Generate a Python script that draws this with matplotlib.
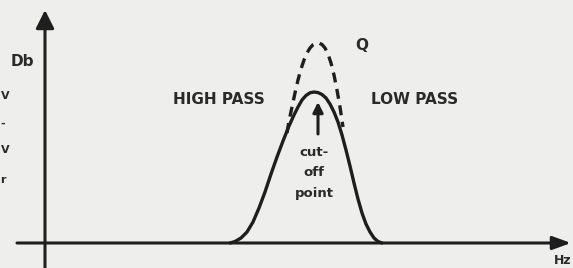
"""Filter response sketch: high pass / low pass around a cut-off point, with Q peak."""
import matplotlib
matplotlib.use("Agg")
import matplotlib.pyplot as plt

W, H = 573, 268
BG = "#eeeeec"
INK = "#1e1e1e"

# solid response curve (x = frequency position, y = level, picture units)
solid_x = [230, 235, 241, 247, 253, 259, 265, 271, 277, 283, 289, 294, 298, 302,
           306, 310, 314, 318, 322, 326, 330, 334, 338, 342, 346, 350, 354, 358,
           362, 366, 370, 374, 378, 382]
solid_y = [243, 241.5, 238, 232, 222, 208, 192, 174, 157, 141, 126, 115, 107, 100,
           95.5, 92.8, 92, 92.6, 94.5, 98, 104, 112, 122, 135, 150, 166, 183, 199,
           213, 224, 232, 238, 241.5, 243]

# dashed (higher Q) curve
dash_x = [287, 289, 292, 295, 298, 301, 304, 307, 310, 313, 316, 319, 322, 325,
          328, 331, 334, 337, 340, 343]
dash_y = [133, 121, 107, 93, 80, 69, 60, 53, 48, 44.8, 43.2, 43, 44.5, 48,
          54, 63, 75, 90, 107, 127]

labels = {
    "HIGH PASS": (219, 99),
    "LOW PASS": (415, 99),
    "Q": (362, 46),
    "Db": (22, 62),
}
cutoff_lines = ["cut-", "off", "point"]
cutoff_y = [152, 172, 193]
edge_marks = [("V", 96), ("-", 124), ("V", 150), ("r", 180)]


def main():
    fig = plt.figure(figsize=(W / 100, H / 100), dpi=100, facecolor=BG)
    ax = fig.add_axes([0, 0, 1, 1])
    ax.set_facecolor(BG)
    ax.set_xlim(0, W)
    ax.set_ylim(H, 0)
    ax.axis("off")

    # axes with arrow heads
    ax.annotate("", xy=(45, 10), xytext=(45, 270),
                arrowprops=dict(arrowstyle="-|>,head_length=1.1,head_width=0.55",
                                lw=2.2, color=INK, shrinkA=0, shrinkB=0))
    ax.annotate("", xy=(571, 243), xytext=(17, 243),
                arrowprops=dict(arrowstyle="-|>,head_length=1.1,head_width=0.4",
                                lw=2.2, color=INK, shrinkA=0, shrinkB=0))

    ax.plot(solid_x, solid_y, color=INK, lw=2.4, solid_capstyle="round",
            solid_joinstyle="round")
    ax.plot(dash_x, dash_y, color=INK, lw=2.4, ls=(0, (3, 2)))

    # cut-off arrow
    ax.annotate("", xy=(318, 102), xytext=(318, 134),
                arrowprops=dict(arrowstyle="-|>,head_length=0.6,head_width=0.3",
                                lw=2.2, color=INK, shrinkA=0, shrinkB=0))

    font = dict(family="DejaVu Sans", weight="bold", color="#2a2a2a")
    for text, (x, y) in labels.items():
        ax.text(x, y, text, ha="center", va="center", fontsize=11, **font)
    for text, y in zip(cutoff_lines, cutoff_y):
        ax.text(314, y, text, ha="center", va="center", fontsize=9.5, **font)
    for text, y in edge_marks:
        ax.text(0.5, y, text, ha="left", va="center", fontsize=8, **font)
    ax.text(554, 267, "Hz", ha="left", va="bottom", fontsize=9, **font)

    fig.savefig("out.png", dpi=100, facecolor=BG)
    plt.close(fig)


if __name__ == "__main__":
    main()
